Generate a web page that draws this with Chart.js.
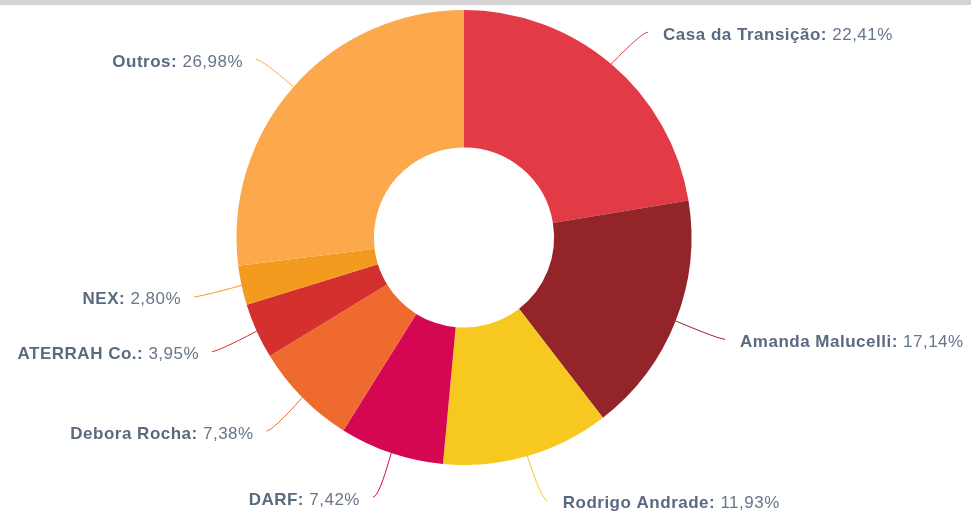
<!DOCTYPE html>
<html>
<head>
<meta charset="utf-8">
<script src="https://cdn.jsdelivr.net/npm/chart.js@4"></script>
<style>
  html, body { margin: 0; padding: 0; background: #ffffff; }
  #wrap { position: relative; width: 971px; height: 516px; overflow: hidden; }
  #topbar { position: absolute; left: 0; top: 0; width: 971px; height: 5px; background: #d3d3d3; }
  canvas { display: block; }
</style>
</head>
<body>
<div id="wrap">
  <canvas id="c" width="971" height="516"></canvas>
  <div id="topbar"></div>
</div>
<script>
const categories = ["Casa da Transição", "Amanda Malucelli", "Rodrigo Andrade", "DARF", "Debora Rocha", "ATERRAH Co.", "NEX", "Outros"];
const shares = [22.41, 17.14, 11.93, 7.42, 7.38, 3.95, 2.80, 26.98];
const sliceColors = ["#E23B45", "#92242A", "#F7C920", "#D50753", "#EE6A2F", "#D4302D", "#F39B1F", "#FBA94C"];

const labelPlugin = {
  id: 'outLabels',
  afterDatasetsDraw(chart) {
    const ctx = chart.ctx;
    const meta = chart.getDatasetMeta(0);
    const ds = chart.data.datasets[0];
    ctx.save();
    meta.data.forEach((arc, i) => {
      const p = arc.getProps(['x', 'y', 'startAngle', 'endAngle', 'outerRadius'], true);
      const m = (p.startAngle + p.endAngle) / 2;
      const R = p.outerRadius;
      const Rl = R + 44.5;
      const c = Math.cos(m), s = Math.sin(m);
      const side = c >= 0 ? 1 : -1;
      const x0 = p.x + R * c, y0 = p.y + R * s;
      const lx = p.x + Rl * c + 2, ly = p.y + Rl * s + 5;
      const ex = lx + 6 * side, ey = ly - 3;
      ctx.strokeStyle = sliceColors[i];
      ctx.lineWidth = 1;
      ctx.beginPath();
      ctx.moveTo(x0, y0);
      ctx.quadraticCurveTo(lx, ey, ex, ey);
      ctx.stroke();

      const name = chart.data.labels[i] + ': ';
      const pct = ds.data[i].toFixed(2).replace('.', ',') + '%';
      const boldFont = 'bold 17px "Liberation Sans", Arial, Helvetica, sans-serif';
      const normFont = '17px "Liberation Sans", Arial, Helvetica, sans-serif';
      ctx.letterSpacing = '0.5px';
      ctx.font = boldFont;
      const wb = ctx.measureText(name).width;
      ctx.font = normFont;
      const wn = ctx.measureText(pct).width;
      const total = wb + wn;
      let tx = side > 0 ? ex + 15 : ex - 13 - total;
      ctx.textBaseline = 'middle';
      ctx.textAlign = 'left';
      ctx.font = boldFont;
      ctx.fillStyle = '#5a6a80';
      ctx.fillText(name, tx, ly);
      ctx.font = normFont;
      ctx.fillStyle = '#66768a';
      ctx.fillText(pct, tx + wb, ly);
    });
    ctx.restore();
  }
};

new Chart(document.getElementById('c'), {
  type: 'doughnut',
  data: {
    labels: categories,
    datasets: [{
      data: shares,
      backgroundColor: sliceColors,
      borderWidth: 0,
      hoverOffset: 0
    }]
  },
  options: {
    responsive: false,
    animation: false,
    cutout: '39.6%',
    layout: { padding: { left: 0, right: 43, top: 10, bottom: 51 } },
    plugins: {
      legend: { display: false },
      tooltip: { enabled: false }
    },
    events: []
  },
  plugins: [labelPlugin]
});
</script>
</body>
</html>
